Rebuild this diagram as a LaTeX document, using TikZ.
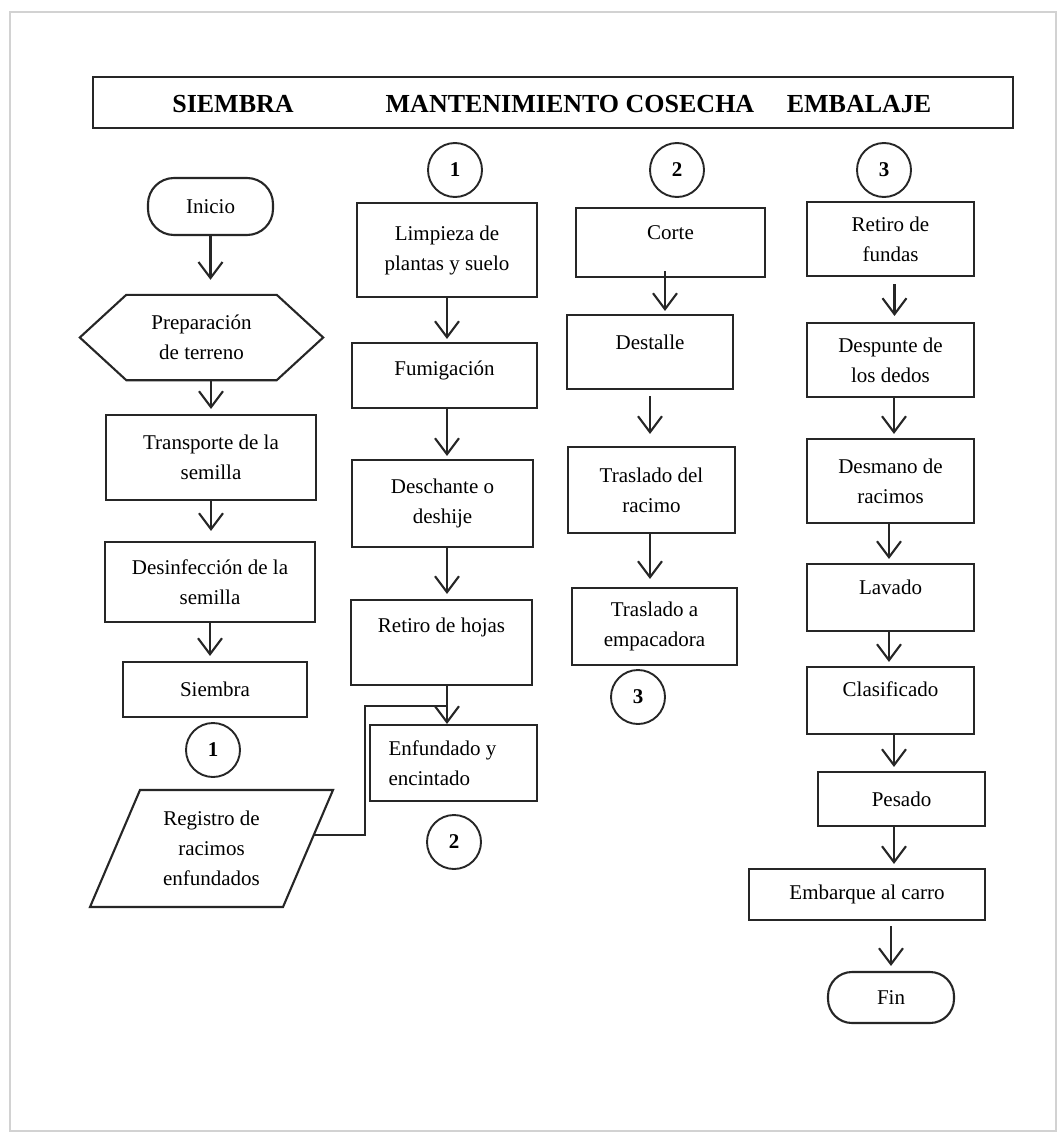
\documentclass[tikz,border=0pt]{standalone}
\usepackage{fontspec}
\setmainfont{Liberation Serif}
\usetikzlibrary{arrows.meta}
\newcommand\dgfont{\fontsize{21}{30}\selectfont}
\newcommand\hdfont{\fontsize{26}{30}\selectfont\bfseries}
\begin{document}
\begin{tikzpicture}[x=1pt,y=-1pt,
  lnk/.style={line width=2.1pt, draw=black!85},
  sz/.style 2 args={minimum width=#1pt, minimum height=#2pt},
  proc/.style={draw=black!85, line width=2.1pt, rectangle, align=center, font=\dgfont, inner sep=2pt},
  term/.style={proc},
  conn/.style={draw=black!85, circle, line width=1.9pt, font=\dgfont\bfseries, minimum size=54pt, inner sep=0pt},
  arr/.style={line width=2.1pt, draw=black!85, -{Straight Barb[length=16pt,width=24pt]}},
  upt/.style={text height=14pt, text depth=#1},
  plain/.style={font=\dgfont, align=center, inner sep=0pt}]
\useasboundingbox (0,0) rectangle (1062,1135);
\fill[white] (0,0) rectangle (1062,1135);
\draw[gray!35, line width=2.5pt] (10,12) rectangle (1056,1131);

% header
\node[draw=black!85, line width=2.2pt, minimum width=920pt, minimum height=51pt, inner sep=0pt] (hdr) at (553,102.5) {};
\node[font=\hdfont] (hs) at (233,104) {SIEMBRA};
\node[font=\hdfont] (hm) at (570,104) {MANTENIMIENTO COSECHA};
\node[font=\hdfont] (he) at (859,104) {EMBALAJE};

% column 1
\node[term, sz={125}{57}, rounded corners=26pt] (inicio) at (210.5,206.5) {Inicio};
\node[plain, sz={150}{85}] (prep) at (201.5,337.5) {Preparación\\de terreno};
\draw[lnk] (prep.north west) -- (prep.north east) -- ([xshift=46.5pt]prep.east) -- (prep.south east) -- (prep.south west) -- ([xshift=-46.5pt]prep.west) -- cycle;
\node[proc, sz={210}{85}] (transp) at (211,457.5) {Transporte de la\\semilla};
\node[proc, sz={210}{80}] (desinf) at (210,582) {Desinfección de la\\semilla};
\node[proc, sz={184}{55}] (siem) at (215,689.5) {Siembra};
\node[conn] (c1a) at (213,750) {1};
\node[plain, sz={143}{117}] (reg) at (211.5,848.5) {Registro de\\racimos\\enfundados};
\draw[lnk] ([shift={(-71.5,-58.5)}]reg.center) -- ([shift={(121.5,-58.5)}]reg.center) -- ([shift={(71.5,58.5)}]reg.center) -- ([shift={(-121.5,58.5)}]reg.center) -- cycle;
\coordinate (regR) at ([shift={(102.5,-13.5)}]reg.center);

\draw[arr, shorten >=15pt] (inicio.south) -- (inicio.south |- prep.north);
\draw[arr, shorten >=5pt] (transp.north |- prep.south) -- (transp.north);
\draw[arr, shorten >=10pt] (transp.south) -- (transp.south |- desinf.north);
\draw[arr, shorten >=5pt] (desinf.south) -- (desinf.south |- siem.north);

% column 2
\node[conn] (c1b) at (455,170) {1};
\node[proc, sz={180}{94}] (limp) at (447,250) {Limpieza de\\plantas y suelo};
\node[proc, sz={185}{65}, upt=14pt] (fum) at (444.5,375.5) {Fumigación};
\node[proc, sz={181}{87}] (desch) at (442.5,503.5) {Deschante o\\deshije};
\node[proc, sz={181}{85}, upt=35pt] (retiro) at (441.5,642.5) {Retiro de hojas};
\node[proc, sz={167}{76}, text width=130pt, align=flush left] (enf) at (453.5,763) {Enfundado y\\encintado};
\node[conn] (c2a) at (454,842) {2};

\draw[arr, shorten >=3pt] (limp.south) -- (limp.south |- fum.north);
\draw[arr, shorten >=3pt] (limp.south |- fum.south) -- (limp.south |- desch.north);
\draw[arr, shorten >=5pt] (limp.south |- desch.south) -- (limp.south |- retiro.north);
\draw[arr] (limp.south |- retiro.south) -- (limp.south |- enf.north);
\coordinate (jn) at (447,706);
\draw[lnk] (regR) -- ++(51,0) |- (jn);

% column 3
\node[conn] (c2b) at (677,170) {2};
\node[proc, sz={189}{69}, upt=21pt] (corte) at (670.5,242.5) {Corte};
\node[proc, sz={166}{74}, upt=20pt] (dest) at (650,352) {Destalle};
\node[proc, sz={167}{86}] (trasl) at (651.5,490) {Traslado del\\racimo};
\node[proc, sz={165}{77}] (empac) at (654.5,626.5) {Traslado a\\empacadora};
\node[conn] (c3a) at (638,697) {3};

\draw[arr, shorten <=-7pt, shorten >=3pt] ([xshift=-5.5pt]corte.south) -- ([xshift=-5.5pt]corte.south |- dest.north);
\draw[arr, shorten <=6pt, shorten >=12pt] (dest.south) -- (dest.south |- trasl.north);
\draw[arr, shorten >=8pt] (dest.south |- trasl.south) -- (dest.south |- empac.north);

% column 4
\node[conn] (c3b) at (884,170) {3};
\node[proc, sz={167}{74}] (rfund) at (890.5,239) {Retiro de\\fundas};
\node[proc, sz={167}{74}] (desp) at (890.5,360) {Despunte de\\los dedos};
\node[proc, sz={167}{84}] (desm) at (890.5,481) {Desmano de\\racimos};
\node[proc, sz={167}{67}, upt=21pt] (lav) at (890.5,597.5) {Lavado};
\node[proc, sz={167}{67}, upt=23pt] (clas) at (890.5,700.5) {Clasificado};
\node[proc, sz={167}{54}] (pes) at (901.5,799) {Pesado};
\node[proc, sz={236}{51}] (emb) at (867,894.5) {Embarque al carro};
\node[term, sz={126}{51}, rounded corners=24pt] (fin) at (891,997.5) {Fin};

\draw[arr, shorten <=7pt, shorten >=6pt] ([xshift=4pt]rfund.south) -- ([xshift=4pt]rfund.south |- desp.north);
\draw[arr, shorten >=4pt] ([xshift=3.5pt]desp.south) -- ([xshift=3.5pt]desp.south |- desm.north);
\draw[arr, shorten >=4pt] ([xshift=-1.5pt]desm.south) -- ([xshift=-1.5pt]desm.south |- lav.north);
\draw[arr, shorten >=4pt] ([xshift=-1.5pt]lav.south) -- ([xshift=-1.5pt]lav.south |- clas.north);
\draw[arr, shorten >=4pt] ([xshift=3.5pt]clas.south) -- ([xshift=3.5pt]clas.south |- pes.north);
\draw[arr, shorten >=4pt] ([xshift=-7.5pt]pes.south) -- ([xshift=-7.5pt]pes.south |- emb.north);
\draw[arr, shorten <=5pt, shorten >=5pt] (fin.north |- emb.south) -- (fin.north);
\end{tikzpicture}
\end{document}
